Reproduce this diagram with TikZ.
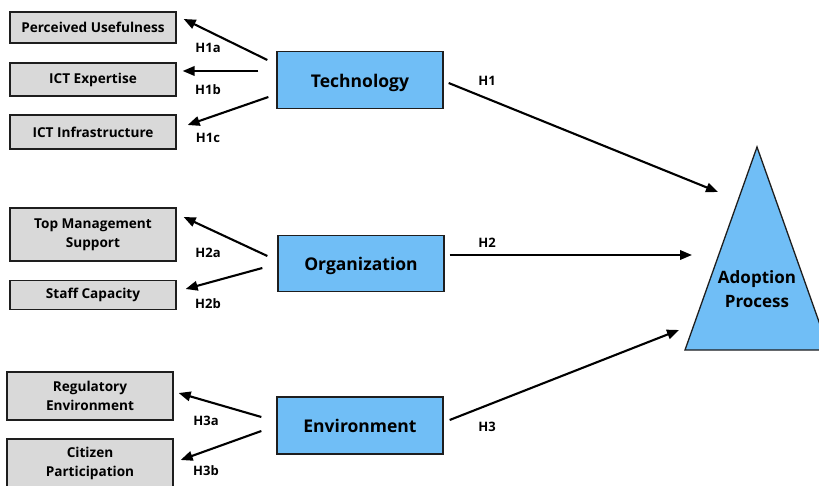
\documentclass[tikz,border=0pt]{standalone}
\usepackage{fontspec}
\setmainfont{Open Sans}
\usetikzlibrary{arrows.meta}
\definecolor{boxgray}{RGB}{217,217,217}
\definecolor{boxblue}{RGB}{112,190,246}
\definecolor{edgeline}{RGB}{30,30,30}

\tikzset{
  factor/.style={draw=edgeline, line width=1.3pt, fill=boxgray, minimum width=166pt,
    align=center, inner sep=0pt, font=\fontsize{13.6}{19}\selectfont\bfseries},
  construct/.style={draw=edgeline, line width=1.3pt, fill=boxblue, minimum width=166pt,
    minimum height=57pt, inner sep=0pt, text height=15pt, text depth=0.5pt,
    font=\fontsize{17.5}{20}\selectfont\bfseries},
  arr/.style={-{Triangle[length=12pt,width=9.5pt]}, line width=2.1pt},
  hyp/.style={font=\fontsize{13}{14}\selectfont\bfseries, inner sep=0pt}
}

\begin{document}
\begin{tikzpicture}[x=1pt,y=-1pt]
  \clip (0,0) rectangle (819,486);

  % factor boxes
  \node[factor, minimum height=31pt] (pu)  at (93,27.5)  {Perceived Usefulness};
  \node[factor, minimum height=33pt] (ict) at (93,79.5)  {ICT Expertise};
  \node[factor, minimum height=34pt] (inf) at (93,132)   {ICT Infrastructure};
  \node[factor, minimum height=53pt] (tms) at (93,234.5) {Top Management\\Support};
  \node[factor, minimum height=29pt] (sc)  at (93,295)   {Staff Capacity};
  \node[factor, minimum height=48pt] (reg) at (90,396)   {Regulatory\\Environment};
  \node[factor, minimum height=48pt] (cit) at (90,463)   {Citizen\\Participation};

  % constructs
  \node[construct] (tech) at (360,80)    {Technology};
  \node[construct, minimum height=56pt] (org) at (361,263.5) {Organization};
  \node[construct] (env)  at (360,425.5) {Environment};

  % outcome triangle
  \coordinate (apex) at (757,147);
  \coordinate (baseR) at (829,350);
  \coordinate (baseL) at (685,350);
  \draw[draw=edgeline, line width=1.3pt, fill=boxblue] (apex) -- (baseR) -- (baseL) -- cycle;
  \node[font=\fontsize{17}{24}\selectfont\bfseries, align=center] (adopt) at (757,289) {Adoption\\Process};
  \coordinate (in1) at (718,192);
  \coordinate (in2) at (692,255);
  \coordinate (in3) at (679,330);

  % technology hypotheses
  \draw[arr] ([shift={(-9,-20)}]tech.west) -- ([shift={(7,-8.5)}]pu.east);
  \draw[arr] ([shift={(-18,-9)}]tech.west) -- ([shift={(6,-8.5)}]ict.east);
  \draw[arr] ([shift={(-8,17)}]tech.west) -- ([shift={(11,-7)}]inf.east);
  \node[hyp] (h1a) at (208,48)  {H1a};
  \node[hyp] (h1b) at (208,90)  {H1b};
  \node[hyp] (h1c) at (208,138) {H1c};

  % organization hypotheses
  \draw[arr] ([shift={(-10,-7.5)}]org.west) -- ([shift={(7,-17.5)}]tms.east);
  \draw[arr] ([shift={(-15,4.5)}]org.west) -- ([shift={(9,-6)}]sc.east);
  \node[hyp] (h2a) at (208,253) {H2a};
  \node[hyp] (h2b) at (208,304) {H2b};

  % environment hypotheses
  \draw[arr] ([shift={(-15,-8.5)}]env.west) -- ([shift={(5,-3)}]reg.east);
  \draw[arr] ([shift={(-15,5.5)}]env.west) -- ([shift={(7,-3)}]cit.east);
  \node[hyp] (h3a) at (206,421) {H3a};
  \node[hyp] (h3b) at (206,471) {H3b};

  % main hypotheses
  \draw[arr] ([shift={(5,3)}]tech.east) -- (in1);
  \draw[arr] ([shift={(5,-8.5)}]org.east) -- (in2);
  \draw[arr] ([shift={(6,-5.5)}]env.east) -- (in3);
  \node[hyp] (h1) at (487,81)  {H1};
  \node[hyp] (h2) at (487,243) {H2};
  \node[hyp] (h3) at (487,427) {H3};
\end{tikzpicture}
\end{document}
